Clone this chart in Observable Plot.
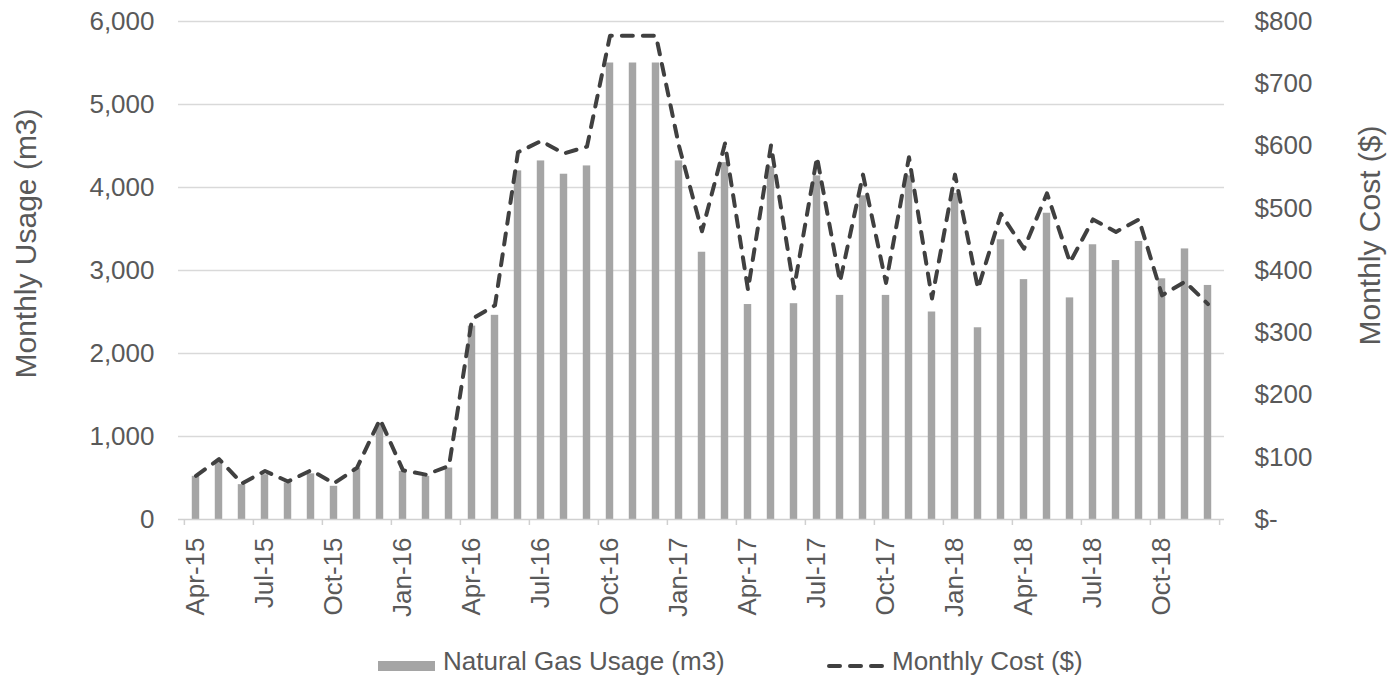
<!DOCTYPE html>
<html>
<head>
<meta charset="utf-8">
<script src="https://cdn.jsdelivr.net/npm/d3@7"></script>
<script src="https://cdn.jsdelivr.net/npm/@observablehq/plot@0.6"></script>
<style>
  body { margin: 0; background: #fff; font-family: "Liberation Sans", Arial, sans-serif; }
  #wrap { position: relative; width: 1399px; height: 683px; }
  #legend { position: absolute; left: 0; top: 640px; width: 1399px; height: 43px; color: #595959; font-size: 26px; }
  #legend .item { position: absolute; top: 0; height: 43px; display: flex; align-items: center; }
</style>
</head>
<body>
<div id="wrap">
  <div id="chart"></div>
  <div id="legend"></div>
</div>
<script>
const months = [
  "Apr-15","May-15","Jun-15","Jul-15","Aug-15","Sep-15","Oct-15","Nov-15","Dec-15",
  "Jan-16","Feb-16","Mar-16","Apr-16","May-16","Jun-16","Jul-16","Aug-16","Sep-16","Oct-16","Nov-16","Dec-16",
  "Jan-17","Feb-17","Mar-17","Apr-17","May-17","Jun-17","Jul-17","Aug-17","Sep-17","Oct-17","Nov-17","Dec-17",
  "Jan-18","Feb-18","Mar-18","Apr-18","May-18","Jun-18","Jul-18","Aug-18","Sep-18","Oct-18","Nov-18","Dec-18"
];
const usage = [
  520, 700, 420, 540, 440, 550, 400, 620, 1150,
  580, 520, 620, 2330, 2460, 4200, 4320, 4160, 4260, 5500, 5500, 5500,
  4320, 3220, 4300, 2590, 4250, 2600, 4140, 2700, 3900, 2700, 4140, 2500,
  3930, 2310, 3370, 2890, 3690, 2670, 3310, 3120, 3350, 2900, 3260, 2820
];
const cost = [
  70, 97, 58, 78, 61, 79, 58, 83, 161,
  79, 72, 86, 322, 344, 590, 608, 588, 599, 777, 777, 777,
  600, 463, 604, 369, 601, 371, 582, 382, 554, 380, 582, 355,
  554, 371, 491, 435, 524, 413, 482, 462, 482, 360, 382, 346
];
const xTickLabels = ["Apr-15","Jul-15","Oct-15","Jan-16","Apr-16","Jul-16","Oct-16","Jan-17","Apr-17","Jul-17","Oct-17","Jan-18","Apr-18","Jul-18","Oct-18"];
const usageTicks = [0, 1000, 2000, 3000, 4000, 5000, 6000];
const costTicks = [0, 100, 200, 300, 400, 500, 600, 700, 800];
const usageTitle = "Monthly Usage (m3)";
const costTitle = "Monthly Cost ($)";
const seriesNames = ["Natural Gas Usage (m3)", "Monthly Cost ($)"];

const ratio = 6000 / 800;
const data = months.map((m, i) => ({month: m, usage: usage[i], cost: cost[i]}));

const W = 1399, H = 640, mL = 178, mR = 175, mT = 21, mB = 121;
const bw = (W - mL - mR) / months.length;
const barW = 7.7;
const textColor = "#595959";
const barColor = "#a5a5a5";
const lineColor = "#404040";

const chart = Plot.plot({
  width: W, height: H,
  marginLeft: mL, marginRight: mR, marginTop: mT, marginBottom: mB,
  style: {fontFamily: "'Liberation Sans', Arial, sans-serif", color: textColor, background: "#fff", overflow: "visible"},
  x: {type: "band", domain: months, padding: 0, axis: null},
  y: {domain: [0, 6000], axis: null},
  marks: [
    Plot.gridY(usageTicks.slice(1), {stroke: "#d9d9d9", strokeOpacity: 1, strokeWidth: 1.3}),
    Plot.barY(data, {x: "month", y: "usage", fill: barColor, insetLeft: (bw - barW) / 2, insetRight: (bw - barW) / 2}),
    Plot.ruleY([0], {stroke: "#d0d0d0", strokeWidth: 1.5}),
    Plot.axisX({ticks: xTickLabels, tickSize: 6, tickFormat: () => "", dx: -bw / 2, stroke: "#d0d0d0", strokeWidth: 1.5, label: null}),
    Plot.axisX({ticks: [months[months.length - 1]], tickSize: 6, tickFormat: () => "", dx: bw / 2, stroke: "#d0d0d0", strokeWidth: 1.5, label: null}),
    Plot.axisX({ticks: xTickLabels, tickSize: 0, tickPadding: 18, tickRotate: -90, fontSize: 26, fill: textColor, label: null}),
    Plot.line(data, {x: "month", y: d => d.cost * ratio, stroke: lineColor, strokeWidth: 4, strokeDasharray: "11,10", strokeLinecap: "round", strokeLinejoin: "round"}),
    Plot.axisY({anchor: "left", ticks: usageTicks, tickSize: 0, tickPadding: 24, fontSize: 26, fill: textColor, tickFormat: d3.format(","), label: null}),
    Plot.axisY({anchor: "right", ticks: costTicks.map(c => c * ratio), tickSize: 0, tickPadding: 30, fontSize: 26, fill: textColor,
      tickFormat: d => d === 0 ? "$-" : "$" + Math.round(d / ratio), label: null}),
    Plot.text([usageTitle], {frameAnchor: "left", textAnchor: "middle", lineAnchor: "middle", rotate: -90, dx: 26 - mL, dy: -27, fontSize: 30, fill: textColor, text: d => d}),
    Plot.text([costTitle], {frameAnchor: "right", textAnchor: "middle", lineAnchor: "middle", rotate: -90, dx: 1370 - (W - mR), dy: -35, fontSize: 30, fill: textColor, text: d => d})
  ]
});
document.getElementById("chart").appendChild(chart);

const legend = document.getElementById("legend");
legend.innerHTML = `
  <div class="item" style="left:378px;">
    <span style="display:inline-block;width:57px;height:10px;background:${barColor};margin-top:9px;"></span>
    <span style="margin-left:8px;">${seriesNames[0]}</span>
  </div>
  <div class="item" style="left:826px;">
    <svg width="62" height="12" style="margin-top:8px;"><line x1="3" y1="6" x2="59" y2="6" stroke="${lineColor}" stroke-width="4" stroke-linecap="round" stroke-dasharray="11,10"/></svg>
    <span style="margin-left:4px;">${seriesNames[1]}</span>
  </div>`;
</script>
</body>
</html>
